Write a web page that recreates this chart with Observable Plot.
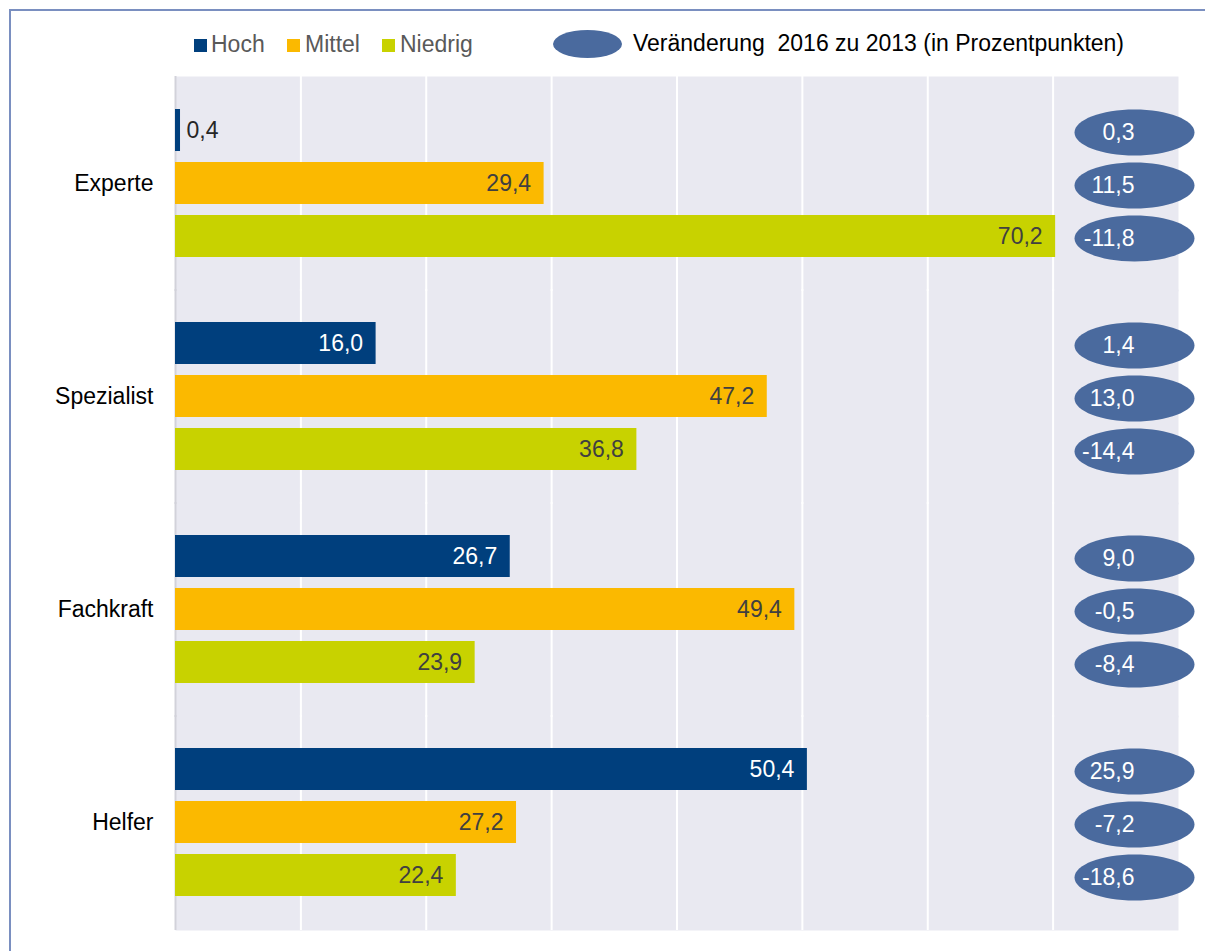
<!DOCTYPE html>
<html>
<head>
<meta charset="utf-8">
<script src="https://cdn.jsdelivr.net/npm/d3@7"></script>
<script src="https://cdn.jsdelivr.net/npm/@observablehq/plot@0.6"></script>
<style>
  html, body { margin: 0; padding: 0; background: #fff; overflow: hidden; }
  body { width: 1205px; height: 951px; position: relative; font-family: "Liberation Sans", Arial, sans-serif; }
  #frame { position: absolute; left: 9px; top: 9px; width: 1300px; height: 1100px; border: 2px solid #7a8fc0; box-sizing: border-box; }
  .sw { position: absolute; width: 13px; height: 13px; top: 39px; }
  .lt { position: absolute; top: 32.5px; font-size: 23px; line-height: 23px; color: #595959; white-space: pre; }
  #lell { position: absolute; left: 553px; top: 30px; width: 69px; height: 28px; border-radius: 50%; background: #4a6a9e; }
  #chart { position: absolute; left: 0; top: 70px; }
</style>
</head>
<body>
<div id="frame"></div>
<div id="legend"></div>
<div id="chart"></div>
<script>
// ---- data ----
const categories = ["Experte", "Spezialist", "Fachkraft", "Helfer"];
const levels = ["Hoch", "Mittel", "Niedrig"];
const levelColors = ["#003f7d", "#fbb900", "#c8d200"];
const hoch    = [0.4, 16.0, 26.7, 50.4];
const mittel  = [29.4, 47.2, 49.4, 27.2];
const niedrig = [70.2, 36.8, 23.9, 22.4];
const changeHoch    = [0.3, 1.4, 9.0, 25.9];
const changeMittel  = [11.5, 13.0, -0.5, -7.2];
const changeNiedrig = [-11.8, -14.4, -8.4, -18.6];
const gridTicks = [10, 20, 30, 40, 50, 60, 70];
const changeLegend = "Veränderung  2016 zu 2013 (in Prozentpunkten)";

const values = [hoch, mittel, niedrig];
const changes = [changeHoch, changeMittel, changeNiedrig];
const rows = categories.flatMap((cat, i) =>
  levels.map((level, j) => ({ cat, level, value: values[j][i], change: changes[j][i] })));
const fmt = v => v.toFixed(1).replace(".", ",");

// ---- legend (HTML) ----
const legend = document.getElementById("legend");
const swLeft = [194, 287, 382];
const txLeft = [211, 305, 400];
levels.forEach((l, i) => {
  const s = document.createElement("div");
  s.className = "sw"; s.style.left = swLeft[i] + "px"; s.style.background = levelColors[i];
  legend.appendChild(s);
  const t = document.createElement("div");
  t.className = "lt"; t.style.left = txLeft[i] + "px"; t.textContent = l;
  legend.appendChild(t);
});
const le = document.createElement("div"); le.id = "lell"; legend.appendChild(le);
const lt = document.createElement("div");
lt.className = "lt"; lt.style.left = "633px"; lt.style.top = "31.5px"; lt.style.color = "#000"; lt.textContent = changeLegend;
legend.appendChild(lt);

// ---- ellipse symbol ----
const ellipse = {
  draw(ctx) {
    const rx = 60, ry = 23, k = 0.5523;
    ctx.moveTo(rx, 0);
    ctx.bezierCurveTo(rx, ry * k, rx * k, ry, 0, ry);
    ctx.bezierCurveTo(-rx * k, ry, -rx, ry * k, -rx, 0);
    ctx.bezierCurveTo(-rx, -ry * k, -rx * k, -ry, 0, -ry);
    ctx.bezierCurveTo(rx * k, -ry, rx, -ry * k, rx, 0);
    ctx.closePath();
  }
};

const font = "'Liberation Sans', Arial, sans-serif";
const chart = Plot.plot({
  width: 1205,
  height: 881,
  marginTop: 7,
  marginBottom: 22,
  marginLeft: 175,
  marginRight: 27,
  style: { fontFamily: font, fontSize: "23px", color: "#000", background: "transparent", overflow: "visible" },
  x: { domain: [0, 80], axis: null },
  y: { domain: levels, axis: null, paddingInner: 0.2, paddingOuter: 0.6 },
  fy: { domain: categories, padding: 0, axis: "left", tickSize: 0, tickPadding: 22, label: null },
  color: { domain: levels, range: levelColors },
  marks: [
    Plot.frame({ fill: "#e9e9f1", stroke: "none", insetTop: -1, insetBottom: -1 }),
    Plot.gridX(gridTicks, { stroke: "#ffffff", strokeOpacity: 1, strokeWidth: 2, insetTop: -1, insetBottom: -1 }),
    Plot.ruleX([0], { stroke: "#d2d2da", strokeWidth: 2, insetTop: -1, insetBottom: -1 }),
    Plot.barX(rows, { fy: "cat", y: "level", x: "value", fill: "level" }),
    Plot.text(rows.filter(d => d.level === "Hoch" && d.value >= 2), {
      fy: "cat", y: "level", x: "value", text: d => fmt(d.value),
      textAnchor: "end", dx: -13, fill: "#ffffff", fontSize: 23
    }),
    Plot.text(rows.filter(d => d.level !== "Hoch" && d.value >= 2), {
      fy: "cat", y: "level", x: "value", text: d => fmt(d.value),
      textAnchor: "end", dx: -13, fill: "#404040", fontSize: 23
    }),
    Plot.text(rows.filter(d => d.value < 2), {
      fy: "cat", y: "level", x: "value", text: d => fmt(d.value),
      textAnchor: "start", dx: 6, fill: "#262626", fontSize: 23
    }),
    Plot.dot(rows, {
      fy: "cat", y: "level", frameAnchor: "right", dx: -44, dy: 2,
      symbol: ellipse, fill: "#4a6a9e", stroke: "none"
    }),
    Plot.text(rows, {
      fy: "cat", y: "level", frameAnchor: "right", dx: -44, dy: 2,
      text: d => fmt(d.change), fill: "#ffffff", fontSize: 23
    })
  ]
});
document.getElementById("chart").appendChild(chart);
</script>
</body>
</html>
